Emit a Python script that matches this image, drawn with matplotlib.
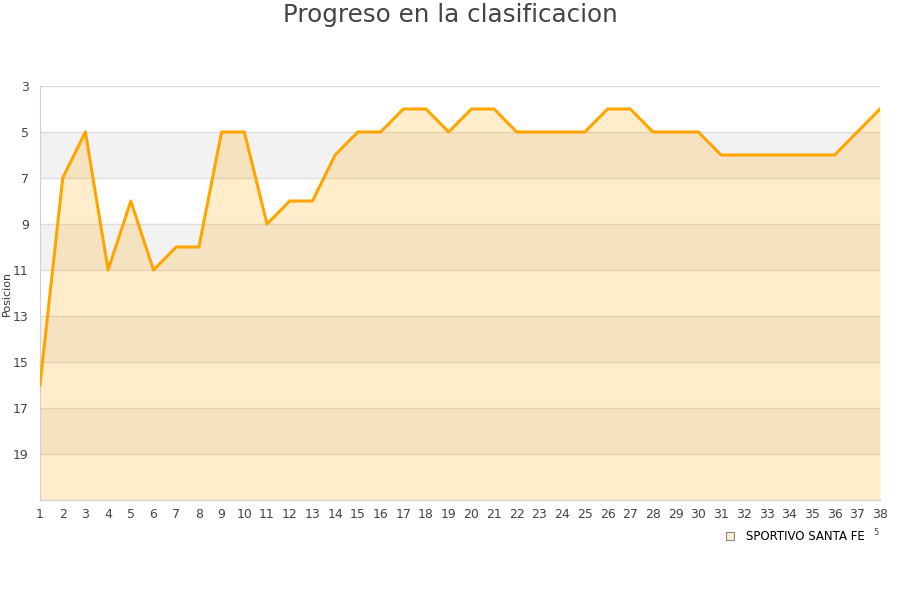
import matplotlib

matplotlib.use("Agg")
import matplotlib.pyplot as plt
import numpy as np

rounds = list(range(1, 39))
positions = [16, 7, 5, 11, 8, 11, 10, 10, 5, 5, 9, 8, 8, 6, 5, 5, 4, 4, 5, 4,
             4, 5, 5, 5, 5, 4, 4, 5, 5, 5, 6, 6, 6, 6, 6, 6, 5, 4]
y_ticks = [3, 5, 7, 9, 11, 13, 15, 17, 19]
grey_bands = [(5, 7), (9, 11), (13, 15), (17, 19)]
team = "SPORTIVO SANTA FE"

fig = plt.figure(figsize=(9, 6), dpi=100)
ax = fig.add_axes([40 / 900, 1 - 500 / 600, 840 / 900, 414 / 600])

for lo, hi in grey_bands:
    ax.axhspan(lo, hi, color="#f2f2f2", zorder=0, lw=0)
for t in y_ticks:
    ax.axhline(t, color="#dddddd", lw=1, zorder=1)

ax.fill_between(rounds, positions, 21, color="#ffa500", alpha=0.2, lw=0, zorder=2)
ax.plot(rounds, positions, color="#ffa500", lw=2.2, zorder=3)

ax.set_xlim(1, 38)
ax.set_ylim(21, 3)
ax.set_xticks(rounds)
ax.set_yticks(y_ticks)
ax.tick_params(length=0, labelsize=9, colors="#444444", pad=6)
ax.tick_params(axis="y", pad=8)
for side in ["top", "right"]:
    ax.spines[side].set_visible(False)
for side in ["left", "bottom"]:
    ax.spines[side].set_color("#d0d0d0")
ax.set_ylabel("Posicion", fontsize=8, color="#333333")
ax.yaxis.set_label_coords(-28 / 840, 0.5)

fig.text(0.5, 1 - 15 / 600, "Progreso en la clasificacion", ha="center", va="center",
         fontsize=17.7, color="#444444")

ax.scatter([], [], marker="s", s=40, color="#ffedcc", edgecolors="#888888",
           linewidths=0.8, label=team)
ax.legend(loc="center right", bbox_to_anchor=(825 / 840, -36 / 414), frameon=False,
          fontsize=8.5, handletextpad=0.4, borderaxespad=0, borderpad=0)
fig.text(873 / 900, 1 - 535 / 600, "5", fontsize=6, color="#444444")

fig.savefig("out.png")
